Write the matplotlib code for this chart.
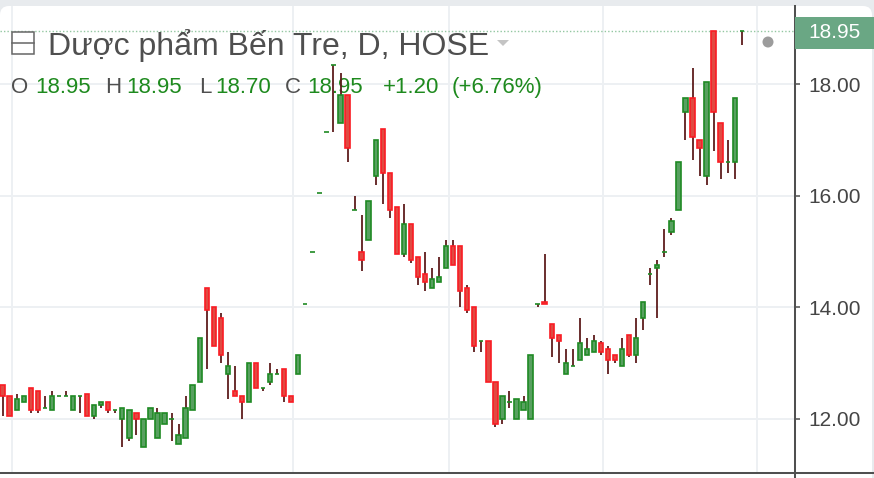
import matplotlib
matplotlib.use("Agg")
import matplotlib.pyplot as plt
from matplotlib.patches import Rectangle, FancyBboxPatch, Circle, Polygon
from matplotlib.lines import Line2D
from matplotlib.transforms import IdentityTransform

# -------------------------------
# DATA (daily candles)
# -------------------------------
opens = [12.6, 12.4, 12.15, 12.3, 12.55, 12.5, 12.2, 12.15, 12.4, 12.4,
         12.15, 12.4, 12.45, 12.05, 12.25, 12.3, 12.15, 12.0, 11.65, 12.1,
         11.5, 12.0, 11.65, 11.9, 12.0, 11.55, 11.65, 12.15, 12.65, 14.35,
         14.0, 13.8, 12.8, 12.5, 12.4, 12.3, 13.0, 12.55, 12.65, 12.8,
         12.9, 12.4, 12.8, 14.05, 15.0, 16.05, 17.15, 18.35, 17.3, 17.8,
         15.75, 15.0, 15.2, 16.35, 17.2, 16.4, 15.8, 14.95, 15.5, 14.9,
         14.6, 14.35, 14.45, 14.7, 15.1, 15.1, 14.35, 14.0, 13.4, 13.4,
         12.65, 12.0, 12.3, 12.0, 12.15, 12.0, 14.05, 14.1, 13.7, 13.5,
         12.8, 12.95, 13.05, 13.15, 13.2, 13.35, 13.25, 13.15, 12.95, 13.5,
         13.15, 13.8, 14.6, 14.7, 15.0, 15.35, 15.75, 17.5, 17.75, 17.0,
         16.35, 18.95, 17.3, 16.6, 16.6, 18.95]
highs = [12.6, 12.4, 12.45, 12.4, 12.55, 12.5, 12.4, 12.5, 12.4, 12.5,
         12.4, 12.4, 12.45, 12.25, 12.3, 12.3, 12.15, 12.2, 12.15, 12.1,
         12.0, 12.2, 12.2, 12.1, 12.1, 11.9, 12.4, 12.6, 13.45, 14.35,
         14.0, 13.9, 13.2, 12.95, 12.4, 13.0, 13.0, 12.55, 13.0, 12.9,
         12.9, 12.4, 13.15, 14.05, 15.0, 16.05, 17.15, 18.35, 18.2, 17.8,
         16.0, 15.65, 15.9, 17.0, 17.2, 16.4, 15.8, 15.85, 15.5, 14.9,
         15.0, 14.7, 14.9, 15.2, 15.2, 15.1, 14.4, 14.0, 13.4, 13.4,
         12.65, 12.4, 12.5, 12.35, 12.4, 13.15, 14.05, 14.95, 13.7, 13.5,
         13.25, 13.25, 13.8, 13.45, 13.5, 13.4, 13.3, 13.15, 13.45, 13.5,
         13.8, 14.1, 14.7, 14.85, 15.4, 15.6, 16.6, 17.75, 18.3, 17.0,
         18.05, 18.95, 17.3, 17.0, 17.75, 18.95]
lows = [12.05, 12.05, 12.15, 12.3, 12.1, 12.1, 12.2, 12.15, 12.4, 12.4,
        12.15, 12.1, 12.05, 12.0, 12.2, 12.1, 12.1, 11.5, 11.6, 11.7,
        11.5, 12.0, 11.65, 11.9, 11.6, 11.55, 11.65, 12.15, 12.65, 12.9,
        13.3, 13.0, 12.35, 12.4, 12.0, 12.3, 12.55, 12.5, 12.6, 12.8,
        12.3, 12.3, 12.8, 14.05, 15.0, 16.05, 17.15, 17.15, 17.3, 16.6,
        15.75, 14.65, 15.2, 16.2, 15.85, 15.6, 14.95, 14.9, 14.8, 14.4,
        14.3, 14.35, 14.45, 14.7, 14.75, 14.0, 13.9, 13.2, 13.2, 12.65,
        11.85, 11.9, 12.2, 12.0, 12.15, 12.0, 14.0, 14.05, 13.1, 13.0,
        12.8, 12.95, 13.05, 13.15, 13.2, 13.15, 12.8, 13.0, 12.95, 13.1,
        13.0, 13.6, 14.4, 13.8, 14.9, 15.3, 15.75, 17.0, 16.65, 16.35,
        16.2, 16.8, 16.3, 16.4, 16.3, 18.7]
closes = [12.4, 12.05, 12.35, 12.4, 12.15, 12.15, 12.2, 12.4, 12.4, 12.4,
          12.4, 12.4, 12.05, 12.25, 12.3, 12.15, 12.15, 12.2, 12.15, 12.0,
          12.0, 12.2, 12.1, 12.1, 12.0, 11.7, 12.2, 12.6, 13.45, 13.95,
          13.3, 13.15, 12.95, 12.4, 12.3, 13.0, 12.55, 12.55, 12.8, 12.8,
          12.4, 12.3, 13.15, 14.05, 15.0, 16.05, 17.15, 18.35, 17.8, 16.85,
          15.75, 14.85, 15.9, 17.0, 16.4, 15.75, 14.95, 15.5, 14.85, 14.55,
          14.45, 14.5, 14.55, 15.1, 14.75, 14.3, 13.95, 13.3, 13.4, 12.65,
          11.9, 12.4, 12.3, 12.35, 12.3, 13.15, 14.05, 14.05, 13.45, 13.4,
          13.0, 12.95, 13.35, 13.25, 13.4, 13.2, 13.05, 13.05, 13.25, 13.15,
          13.45, 14.1, 14.6, 14.75, 15.0, 15.55, 16.6, 17.75, 17.05, 16.85,
          18.05, 17.5, 16.6, 16.6, 17.75, 18.95]

price_ticks = [12, 14, 16, 18]
month_lines = [1.4, 41.25, 63.4, 85.3, 107.15]
last_price = 18.95

title = "Dược phẩm Bến Tre, D, HOSE"
ohlc_letters = ["O", "H", "L", "C"]
ohlc_values = ["18.95", "18.95", "18.70", "18.95"]
change_abs = "+1.20"
change_pct = "(+6.76%)"

# -------------------------------
# STYLE
# -------------------------------
W, H = 874, 478
plt.rcParams["font.family"] = ["Liberation Sans", "DejaVu Sans"]

UP_EDGE, UP_FACE = "#1f8a24", "#58a060"
DN_EDGE, DN_FACE = "#fa1c24", "#e04a42"
WICK = "#5e1c1c"
GRID = "#edf0f3"
AXIS = "#505050"
TXT_GRAY = "#4f4f4f"
TXT_GREEN = "#1e8a1e"
LABEL_BG = "#6aa784"

px = IdentityTransform()  # pixel coords, origin bottom-left

fig = plt.figure(figsize=(W / 100, H / 100), dpi=100)
fig.patch.set_facecolor("#e8ebee")

# white rounded panel
fig.patches.append(FancyBboxPatch((0, -20), 872, H - 6 + 20,
                                  boxstyle="round,pad=0,rounding_size=9",
                                  transform=px, facecolor="white",
                                  edgecolor="none", zorder=-1))

ax = fig.add_axes([0, 5 / H, 795 / W, (473 - 6) / H])
ax.set_facecolor("none")
for s in ax.spines.values():
    s.set_visible(False)

# -------------------------------
# GRID
# -------------------------------
for p in price_ticks:
    ax.axhline(p, color=GRID, lw=1.4, zorder=0)
for m in month_lines:
    ax.axvline(m, color=GRID, lw=1.4, zorder=0)
ax.axhline(last_price, color="#93c7a1", lw=1.0, ls=(0, (1, 1.5)), zorder=1)

# -------------------------------
# CANDLES
# -------------------------------
bw = 0.62
for i in range(len(opens)):
    o, h, l, c = opens[i], highs[i], lows[i], closes[i]
    up = c >= o
    if h > l:
        ax.vlines(i, l, h, color=WICK, lw=1.3, zorder=2)
    ax.add_patch(Rectangle((i - bw / 2, min(o, c)), bw, abs(c - o),
                           facecolor=UP_FACE if up else DN_FACE,
                           edgecolor=UP_EDGE if up else DN_EDGE,
                           lw=1.2, zorder=3))

ax.set_xlim(-0.37, 112.56)
ax.set_ylim(11.026, 19.405)
ax.set_xticks([])
ax.yaxis.tick_right()
ax.set_yticks(price_ticks)
ax.set_yticklabels([f"{p:.2f}" for p in price_ticks])
ax.tick_params(axis="y", length=3.6, width=1.1, color=AXIS, pad=5.8,
               labelsize=15, labelcolor="#454545")

# -------------------------------
# AXIS LINES + LAST PRICE LABEL
# -------------------------------
fig.lines.append(Line2D([795, 795], [0, H - 6], transform=px,
                        color=AXIS, lw=1.45, zorder=4))
fig.lines.append(Line2D([0, W], [5, 5], transform=px,
                        color=AXIS, lw=1.45, zorder=4))
fig.patches.append(Rectangle((795, H - 49), 79, 32, transform=px,
                             facecolor=LABEL_BG, edgecolor="none", zorder=5))
fig.text(835, H - 33, f"{last_price:.2f}", transform=px, color="white",
         fontsize=15, ha="center", va="center", zorder=6)
fig.patches.append(Circle((768, H - 42), 5.5, transform=px,
                          facecolor="#9c9c9c", edgecolor="none", zorder=5))

# -------------------------------
# HEADER (above grid, below candles)
# -------------------------------
ax.add_artist(Rectangle((11.5, H - 53.5), 22, 22, transform=px,
                        facecolor="white", edgecolor="#666666",
                        lw=1.1, zorder=1.5))
ax.add_artist(Line2D([11.5, 33.5], [H - 42.5, H - 42.5], transform=px,
                     color="#666666", lw=1.1, zorder=1.6))
ax.text(48, H - 55, title, transform=px, fontsize=23, color=TXT_GRAY,
        ha="left", va="baseline", zorder=1.5)
ax.add_artist(Polygon([(497, H - 40), (509, H - 40), (503, H - 46)],
                      closed=True, transform=px, facecolor="#c4c4c4",
                      edgecolor="none", zorder=1.5))

letter_x = [10.7, 105, 199, 285]
value_x = [35, 126.5, 215, 307.3]
for lx, vx, ltr, val in zip(letter_x, value_x, ohlc_letters, ohlc_values):
    ax.text(lx, H - 92.7, ltr, transform=px, fontsize=16, color=TXT_GRAY,
            va="baseline", zorder=1.5)
    ax.text(vx, H - 92.7, val, transform=px, fontsize=16, color=TXT_GREEN,
            va="baseline", zorder=1.5)
ax.text(383.3, H - 92.7, change_abs, transform=px, fontsize=16,
        color=TXT_GREEN, va="baseline", zorder=1.5)
ax.text(451.7, H - 92.7, change_pct, transform=px, fontsize=16,
        color=TXT_GREEN, va="baseline", zorder=1.5)

fig.savefig("out.png", dpi=100, facecolor=fig.get_facecolor())
